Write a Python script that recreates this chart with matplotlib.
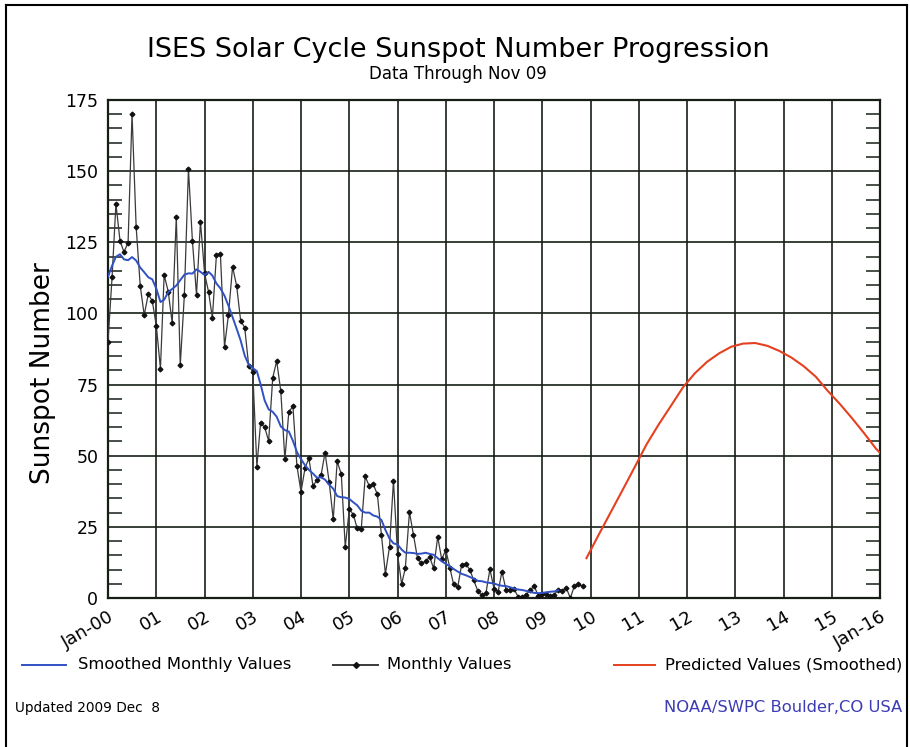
import matplotlib
matplotlib.use("Agg")
import matplotlib.pyplot as plt
import matplotlib.transforms as mtransforms
from matplotlib.lines import Line2D
from matplotlib.ticker import MultipleLocator
import pandas as pd

# monthly sunspot numbers, Jan 2000 - Nov 2009
monthly = [
    90.1, 112.9, 138.5, 125.5, 121.6, 124.9, 170.1, 130.5, 109.7, 99.4, 106.8, 104.4,
    95.6, 80.6, 113.5, 107.7, 96.6, 134.0, 81.8, 106.4, 150.7, 125.5, 106.5, 132.2,
    114.1, 107.4, 98.4, 120.7, 120.8, 88.3, 99.6, 116.4, 109.6, 97.5, 95.0, 81.6,
    79.5, 46.2, 61.5, 60.0, 55.2, 77.4, 83.3, 72.7, 48.7, 65.5, 67.3, 46.5,
    37.3, 45.8, 49.1, 39.3, 41.5, 43.2, 51.1, 40.9, 27.7, 48.0, 43.5, 17.9,
    31.3, 29.2, 24.5, 24.2, 42.7, 39.3, 40.0, 36.4, 22.1, 8.5, 18.0, 41.2,
    15.3, 4.9, 10.6, 30.2, 22.3, 13.9, 12.2, 12.9, 14.4, 10.4, 21.5, 13.6,
    16.9, 10.6, 4.8, 3.7, 11.7, 12.0, 10.0, 6.2, 2.4, 0.9, 1.7, 10.1,
    3.3, 2.1, 9.3, 2.9, 2.9, 3.1, 0.5, 0.5, 1.1, 2.9, 4.1, 0.8,
    1.5, 1.4, 0.7, 1.2, 2.9, 2.6, 3.5, 0.0, 4.3, 4.8, 4.1,
]

# 13-month smoothed values, Jan 2000 - May 2009
smoothed = [
    112.9, 116.8, 119.9, 120.8, 119.0, 118.7, 119.8, 118.6, 116.1, 114.5, 112.7, 112.0,
    108.7, 104.0, 104.8, 107.5, 108.6, 109.8, 111.7, 113.6, 114.1, 114.0, 115.5, 114.6,
    113.5, 114.6, 113.3, 110.5, 108.8, 106.2, 102.7, 98.7, 94.6, 90.5, 85.2, 82.0,
    80.8, 79.7, 75.1, 69.4, 66.3, 65.4, 63.7, 60.3, 59.0, 58.5, 55.2, 51.3,
    48.8, 46.6, 45.0, 43.7, 42.3, 42.4, 41.6, 39.8, 38.4, 35.8, 35.4, 35.3,
    34.8, 33.6, 32.6, 30.7, 30.0, 30.0, 29.0, 28.6, 27.4, 23.9, 20.9, 19.2,
    18.8, 17.0, 15.9, 15.9, 15.8, 15.5, 15.6, 15.9, 15.5, 15.2, 14.0, 12.9,
    12.0, 11.1, 10.2, 9.3, 8.5, 8.0, 7.4, 6.8, 6.0, 5.9, 5.5, 5.3,
    5.1, 4.6, 4.3, 4.2, 3.8, 3.3, 3.0, 2.8, 2.5, 2.1, 1.8, 1.7,
    1.8, 2.0, 2.2, 2.3, 2.7,
]

# predicted smoothed values
pred_dates = [
    "2009-12", "2010-03", "2010-06", "2010-09", "2010-12", "2011-03", "2011-06",
    "2011-09", "2011-12", "2012-03", "2012-06", "2012-09", "2012-12", "2013-03",
    "2013-06", "2013-09", "2013-12", "2014-03", "2014-06", "2014-09", "2014-12",
    "2015-03", "2015-06", "2015-09", "2015-12", "2016-01",
]
pred_values = [
    14, 22, 30, 38, 46, 54, 61, 67.5, 74, 79, 83, 86, 88.3, 89.4,
    89.6, 88.6, 86.8, 84.5, 81.5, 77.8, 72.8, 68.3, 63.3, 58, 52.5, 51,
]

year_labels = ["Jan-00", "01", "02", "03", "04", "05", "06", "07", "08",
               "09", "10", "11", "12", "13", "14", "15", "Jan-16"]
y_ticks = [0, 25, 50, 75, 100, 125, 150, 175]

m_dates = pd.date_range("2000-01-01", periods=len(monthly), freq="MS")
s_dates = pd.date_range("2000-01-01", periods=len(smoothed), freq="MS")
p_dates = pd.to_datetime(pred_dates)
tick_dates = pd.date_range("2000-01-01", periods=len(year_labels), freq="YS")

W, H = 910, 747
fig = plt.figure(figsize=(W / 100, H / 100), dpi=100, facecolor="white")
ax = fig.add_axes([108 / W, 1 - 598 / H, (880 - 108) / W, (598 - 100) / H])

grid_col = "#161e16"
blue = "#3050c4"
red = "#e5401f"
ax.plot(m_dates, monthly, color="#3a3a3a", lw=0.9, marker="D", ms=2.4,
        mfc="#111111", mec="#111111", zorder=3)
ax.plot(s_dates, smoothed, color=blue, lw=1.4, zorder=4)
ax.plot(p_dates, pred_values, color=red, lw=1.5, zorder=4)

ax.set_xlim(tick_dates[0], tick_dates[-1])
ax.set_ylim(0, 175)
ax.set_xticks(tick_dates)
ax.set_xticklabels(year_labels, rotation=30, ha="right", va="top",
                   rotation_mode="anchor", fontsize=13)
shift = mtransforms.ScaledTranslation(-5 / 100, 0, fig.dpi_scale_trans)
for lab in ax.get_xticklabels():
    lab.set_transform(lab.get_transform() + shift)
ax.set_yticks(y_ticks)
ax.set_yticklabels([str(v) for v in y_ticks], fontsize=12.5)
ax.yaxis.set_minor_locator(MultipleLocator(5))
ax.tick_params(axis="both", which="major", length=0)
ax.tick_params(axis="x", pad=7)
ax.tick_params(axis="y", pad=7)
ax.tick_params(axis="y", which="minor", direction="in", length=10,
               width=1.1, color=grid_col, left=True, right=True)
ax.grid(True, which="major", color=grid_col, lw=1.2)
ax.set_axisbelow(True)
for s in ax.spines.values():
    s.set_color(grid_col)
    s.set_linewidth(1.6)

ax.set_ylabel("Sunspot Number", fontsize=19)
ax.yaxis.set_label_coords((56 - 108) / 772, (598 - 373) / 498)

fig.text(458 / W, 1 - 50 / H, "ISES Solar Cycle Sunspot Number Progression",
         ha="center", va="center", fontsize=19.5)
fig.text(458 / W, 1 - 74 / H, "Data Through Nov 09", ha="center", va="center",
         fontsize=12)

# legend row
leg_y = 1 - 665 / H
entries = [
    (22, 66, blue, None, 78, "Smoothed Monthly Values"),
    (333, 378, "#3a3a3a", "D", 387, "Monthly Values"),
    (614, 655, red, None, 665, "Predicted Values (Smoothed)"),
]
for x0, x1, col, mk, tx, label in entries:
    fig.add_artist(Line2D([x0 / W, x1 / W], [leg_y, leg_y], color=col, lw=1.4))
    if mk:
        fig.add_artist(Line2D([(x0 + x1) / 2 / W], [leg_y], marker=mk, ms=3,
                              color="#111111"))
    fig.text(tx / W, leg_y, label, ha="left", va="center", fontsize=11.8)

fig.text(15 / W, 1 - 708 / H, "Updated 2009 Dec  8", ha="left", va="center",
         fontsize=9.8)
fig.text(902 / W, 1 - 708 / H, "NOAA/SWPC Boulder,CO USA", ha="right",
         va="center", fontsize=11.8, color="#3c3cb4")

# outer frame
fig.add_artist(Line2D([6 / W, 6 / W], [0, 1 - 5 / H], color="black", lw=1.5))
fig.add_artist(Line2D([6 / W, 907 / W], [1 - 5 / H, 1 - 5 / H], color="black", lw=1.5))
fig.add_artist(Line2D([907 / W, 907 / W], [0, 1 - 5 / H], color="black", lw=1.5))

fig.savefig("out.png", dpi=100, facecolor="white")
